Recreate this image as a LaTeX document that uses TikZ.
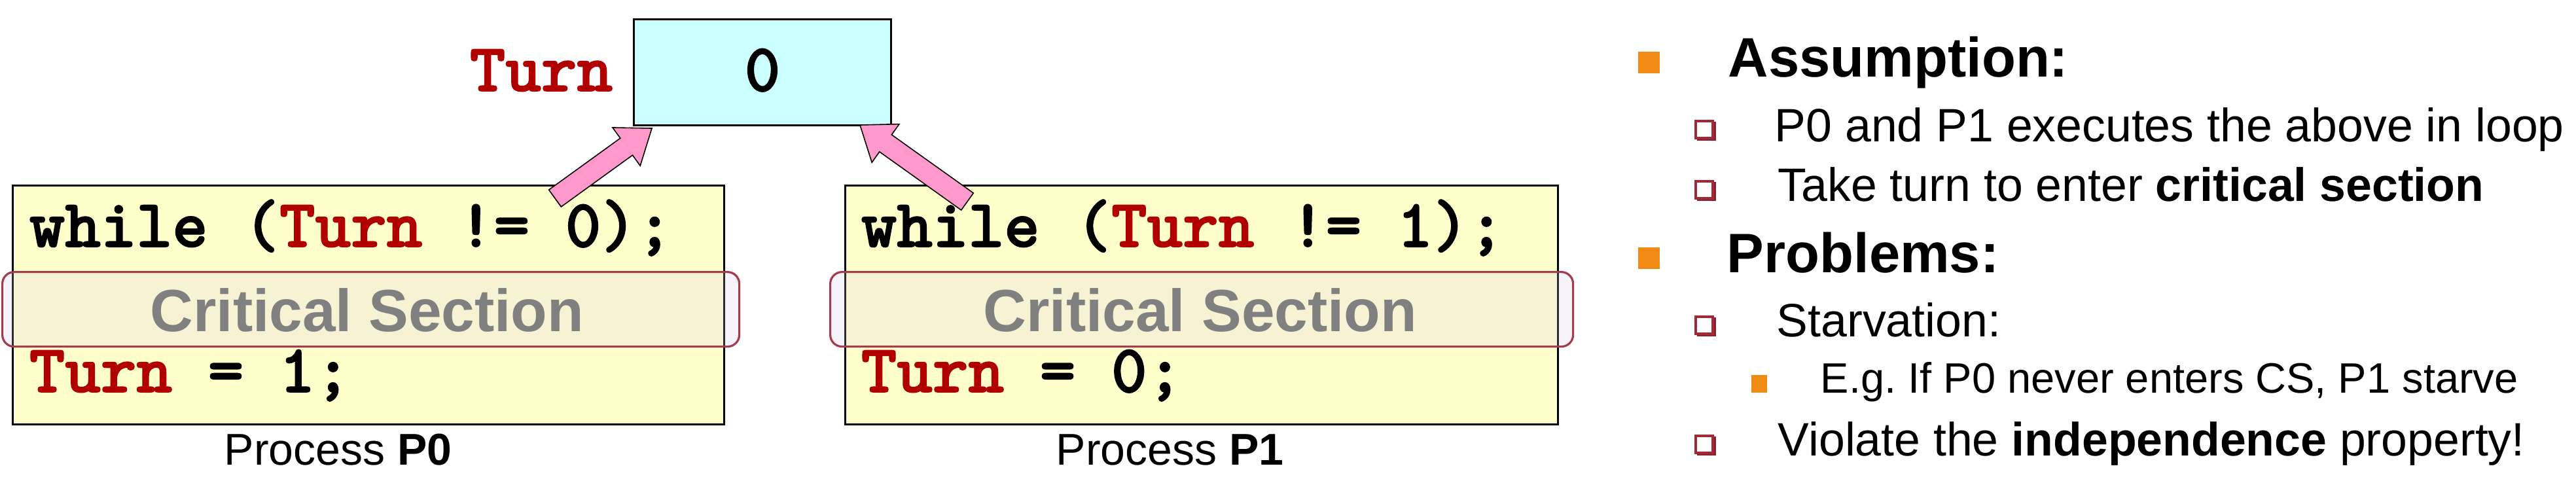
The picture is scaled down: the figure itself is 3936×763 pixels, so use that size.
\documentclass[tikz,border=0pt]{standalone}
\usepackage{fontspec}
\setmainfont{Liberation Sans}
\newfontfamily\codefont[FakeBold=1.6]{lmmonolt10-bold.otf}
\usetikzlibrary{calc}
\definecolor{codered}{RGB}{176,0,0}
\definecolor{boxyellow}{RGB}{255,255,204}
\definecolor{turncyan}{RGB}{204,255,255}
\definecolor{arrowpink}{RGB}{255,153,204}
\definecolor{csfill}{RGB}{218,200,236}
\definecolor{csborder}{RGB}{165,60,75}
\definecolor{csgray}{RGB}{128,128,128}
\definecolor{bulorange}{RGB}{240,138,20}
\definecolor{bulred}{RGB}{160,40,55}
\frenchspacing
\newcommand\cf[1]{{\codefont\fontsize{26pt}{26pt}\selectfont #1}}
\newcommand\tv{\textcolor{codered}{Turn}}
\newcommand\blockarrow[2]{%
  \coordinate (#1h) at ($(#2)!12pt!(#1)$);
  \filldraw[pinkarrow] ($(#1)!4pt!90:(#2)$) -- ($(#1h)!4pt!-90:(#1)$) -- ($(#1h)!9pt!-90:(#1)$)
    -- (#2) -- ($(#1h)!9pt!90:(#1)$) -- ($(#1h)!4pt!90:(#1)$) -- ($(#1)!4pt!-90:(#2)$) -- cycle;}
\begin{document}
\begin{tikzpicture}[x=0.25pt,y=-0.25pt,
  procbox/.style={draw=black,line width=0.75pt,fill=boxyellow,anchor=north west,inner sep=0,minimum height=91.25pt},
  csbox/.style={draw=csborder,line width=0.8pt,fill=csfill,fill opacity=0.22,rounded corners=4.5pt,anchor=north west,inner sep=0,minimum height=28.5pt},
  turnstyle/.style={draw=black,line width=0.75pt,fill=turncyan,anchor=north west,inner sep=0,minimum width=98.25pt,minimum height=40.5pt},
  pinkarrow/.style={fill=arrowpink,draw=black,line width=0.4pt,line join=miter},
  txt/.style={inner sep=0,anchor=base west},
  cstext/.style={inner sep=0,anchor=base,font=\fontsize{22.75pt}{22.75pt}\selectfont\bfseries,text=csgray},
  proctext/.style={inner sep=0,anchor=base west,font=\fontsize{17pt}{17pt}\selectfont},
  headtext/.style={inner sep=0,anchor=base west,font=\fontsize{21.25pt}{21.25pt}\selectfont\bfseries},
  subtext/.style={inner sep=0,anchor=base west,font=\fontsize{17.9pt}{17.9pt}\selectfont},
  subsubtext/.style={inner sep=0,anchor=base west,font=\fontsize{16.25pt}{16.25pt}\selectfont},
  mainbul/.style={fill=bulorange,inner sep=0,minimum size=8.25pt,anchor=south west},
  subbul/.style={draw=bulred,line width=0.9pt,fill=white,inner sep=0,minimum size=6.6pt,anchor=south west},
  subbulsh/.style={fill=bulred!85!black,inner sep=0,minimum size=7.2pt,anchor=south west},
  subsubbul/.style={fill=bulorange,inner sep=0,minimum width=6pt,minimum height=6.75pt,anchor=south west}]
\useasboundingbox (0,0) rectangle (3936,763);

% process boxes
\node[procbox,minimum width=271.75pt] (p0box) at (18,282) {};
\node[procbox,minimum width=272.25pt] (p1box) at (1290,282) {};
\node[csbox,minimum width=281.5pt] (cs0) at (2,414) {};
\node[csbox,minimum width=283.75pt] (cs1) at (1267,414) {};

% turn variable
\node[turnstyle] (turnbox) at (967,28) {};
\node[inner sep=0,anchor=base east] (turnlbl) at (937,139) {\cf{\tv}};
\node[inner sep=0,anchor=base] (turnval) at (1165,139) {\cf{0}};

% code P0
\node[txt] (c0a) at (44,377) {\cf{while (\tv{} != 0);}};
\node[cstext] (cst0) at (561,506) {Critical Section};
\node[txt] (c0b) at (44,599) {\cf{\tv{} = 1;}};
\node[proctext] (pl0) at (342,710) {Process \textbf{P0}};

% code P1
\node[txt] (c1a) at (1315,377) {\cf{while (\tv{} != 1);}};
\node[cstext] (cst1) at (1834,506) {Critical Section};
\node[txt] (c1b) at (1315,599) {\cf{\tv{} = 0;}};
\node[proctext] (pl1) at (1613,710) {Process \textbf{P1}};

% arrows
\coordinate (a0s) at ($(p0box.north west)+(830,21)$);
\coordinate (a0e) at ($(turnbox.south west)+(29,3)$);
\coordinate (a1s) at ($(p1box.north west)+(188,26)$);
\coordinate (a1e) at ($(turnbox.south east)+(-49,-2)$);
\blockarrow{a0s}{a0e}
\blockarrow{a1s}{a1e}

% right text
\node[mainbul] (bA) at (2502,113) {};
\node[headtext] (tA) at (2640,117) {Assumption:};
\node[subbulsh] (sA1s) at (2592,216) {};
\node[subbul] (sA1) at (2589,213) {};
\node[subtext] (tA1) at (2711,216) {P0 and P1 executes the above in loop};
\node[subbulsh] (sA2s) at (2592,308) {};
\node[subbul] (sA2) at (2589,305) {};
\node[subtext] (tA2) at (2716,307) {Take turn to enter \textbf{critical section}};
\node[mainbul] (bP) at (2502,412) {};
\node[headtext] (tP) at (2638,416) {Problems:};
\node[subbulsh] (sP1s) at (2592,515) {};
\node[subbul] (sP1) at (2589,512) {};
\node[subtext] (tP1) at (2714,514) {Starvation:};
\node[subsubbul] (ssP) at (2675,601) {};
\node[subsubtext] (tP1a) at (2781,600) {E.g. If P0 never enters CS, P1 starve};
\node[subbulsh] (sP2s) at (2592,697) {};
\node[subbul] (sP2) at (2589,694) {};
\node[subtext] (tP2) at (2716,696) {Violate the \textbf{independence} property!};
\end{tikzpicture}
\end{document}
